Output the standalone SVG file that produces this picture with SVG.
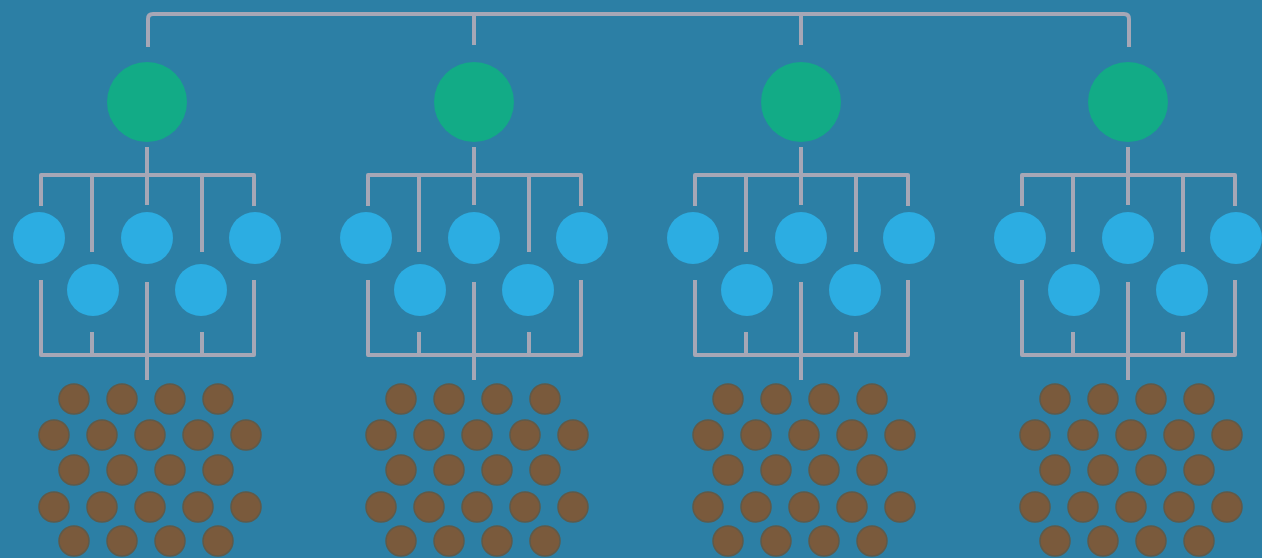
<svg xmlns="http://www.w3.org/2000/svg" width="1262" height="558" viewBox="0 0 1262 558">
<style>
.bg{fill:#2c7fa5}
.ln{fill:none;stroke:#a6a7b6;stroke-width:4;stroke-linejoin:round}
.g{fill:#12ab86}
.b{fill:#2cade2}
.d{fill:#7a5a3c;stroke:#5f5a4a;stroke-width:1.5}
</style>
<rect class="bg" x="0" y="0" width="1262" height="558"/>
<g id="connectors" class="ln">
<path d="M148,47 V19 Q148,14 153,14 H1124 Q1129,14 1129,19 V47 M474,14 V45 M801,14 V45"/>
<g transform="translate(147,0)"><path d="M0,147 V175 M-106,206 V175 H107 V206 M-55,175 V252 M0,175 V205 M55,175 V252 M-106,280 V355 H107 V280 M-55,332 V355 M55,332 V355 M0,282 V380"/></g>
<g transform="translate(474,0)"><path d="M0,147 V175 M-106,206 V175 H107 V206 M-55,175 V252 M0,175 V205 M55,175 V252 M-106,280 V355 H107 V280 M-55,332 V355 M55,332 V355 M0,282 V380"/></g>
<g transform="translate(801,0)"><path d="M0,147 V175 M-106,206 V175 H107 V206 M-55,175 V252 M0,175 V205 M55,175 V252 M-106,280 V355 H107 V280 M-55,332 V355 M55,332 V355 M0,282 V380"/></g>
<g transform="translate(1128,0)"><path d="M0,147 V175 M-106,206 V175 H107 V206 M-55,175 V252 M0,175 V205 M55,175 V252 M-106,280 V355 H107 V280 M-55,332 V355 M55,332 V355 M0,282 V380"/></g>
</g>
<g id="cluster-1" transform="translate(147,0)">
<g id="root-1"><circle class="g" cx="0" cy="102" r="40"/></g>
<g id="c1-b1"><circle class="b" cx="-108" cy="238" r="26"/></g>
<g id="c1-b2"><circle class="b" cx="0" cy="238" r="26"/></g>
<g id="c1-b3"><circle class="b" cx="108" cy="238" r="26"/></g>
<g id="c1-b4"><circle class="b" cx="-54" cy="290" r="26"/></g>
<g id="c1-b5"><circle class="b" cx="54" cy="290" r="26"/></g>
<g id="c1-dots">
<circle class="d" cx="-73" cy="399" r="15"/><circle class="d" cx="-25" cy="399" r="15"/><circle class="d" cx="23" cy="399" r="15"/><circle class="d" cx="71" cy="399" r="15"/>
<circle class="d" cx="-93" cy="435" r="15"/><circle class="d" cx="-45" cy="435" r="15"/><circle class="d" cx="3" cy="435" r="15"/><circle class="d" cx="51" cy="435" r="15"/><circle class="d" cx="99" cy="435" r="15"/>
<circle class="d" cx="-73" cy="470" r="15"/><circle class="d" cx="-25" cy="470" r="15"/><circle class="d" cx="23" cy="470" r="15"/><circle class="d" cx="71" cy="470" r="15"/>
<circle class="d" cx="-93" cy="507" r="15"/><circle class="d" cx="-45" cy="507" r="15"/><circle class="d" cx="3" cy="507" r="15"/><circle class="d" cx="51" cy="507" r="15"/><circle class="d" cx="99" cy="507" r="15"/>
<circle class="d" cx="-73" cy="541" r="15"/><circle class="d" cx="-25" cy="541" r="15"/><circle class="d" cx="23" cy="541" r="15"/><circle class="d" cx="71" cy="541" r="15"/>
</g>
</g>
<g id="cluster-2" transform="translate(474,0)">
<g id="root-2"><circle class="g" cx="0" cy="102" r="40"/></g>
<g id="c2-b1"><circle class="b" cx="-108" cy="238" r="26"/></g>
<g id="c2-b2"><circle class="b" cx="0" cy="238" r="26"/></g>
<g id="c2-b3"><circle class="b" cx="108" cy="238" r="26"/></g>
<g id="c2-b4"><circle class="b" cx="-54" cy="290" r="26"/></g>
<g id="c2-b5"><circle class="b" cx="54" cy="290" r="26"/></g>
<g id="c2-dots">
<circle class="d" cx="-73" cy="399" r="15"/><circle class="d" cx="-25" cy="399" r="15"/><circle class="d" cx="23" cy="399" r="15"/><circle class="d" cx="71" cy="399" r="15"/>
<circle class="d" cx="-93" cy="435" r="15"/><circle class="d" cx="-45" cy="435" r="15"/><circle class="d" cx="3" cy="435" r="15"/><circle class="d" cx="51" cy="435" r="15"/><circle class="d" cx="99" cy="435" r="15"/>
<circle class="d" cx="-73" cy="470" r="15"/><circle class="d" cx="-25" cy="470" r="15"/><circle class="d" cx="23" cy="470" r="15"/><circle class="d" cx="71" cy="470" r="15"/>
<circle class="d" cx="-93" cy="507" r="15"/><circle class="d" cx="-45" cy="507" r="15"/><circle class="d" cx="3" cy="507" r="15"/><circle class="d" cx="51" cy="507" r="15"/><circle class="d" cx="99" cy="507" r="15"/>
<circle class="d" cx="-73" cy="541" r="15"/><circle class="d" cx="-25" cy="541" r="15"/><circle class="d" cx="23" cy="541" r="15"/><circle class="d" cx="71" cy="541" r="15"/>
</g>
</g>
<g id="cluster-3" transform="translate(801,0)">
<g id="root-3"><circle class="g" cx="0" cy="102" r="40"/></g>
<g id="c3-b1"><circle class="b" cx="-108" cy="238" r="26"/></g>
<g id="c3-b2"><circle class="b" cx="0" cy="238" r="26"/></g>
<g id="c3-b3"><circle class="b" cx="108" cy="238" r="26"/></g>
<g id="c3-b4"><circle class="b" cx="-54" cy="290" r="26"/></g>
<g id="c3-b5"><circle class="b" cx="54" cy="290" r="26"/></g>
<g id="c3-dots">
<circle class="d" cx="-73" cy="399" r="15"/><circle class="d" cx="-25" cy="399" r="15"/><circle class="d" cx="23" cy="399" r="15"/><circle class="d" cx="71" cy="399" r="15"/>
<circle class="d" cx="-93" cy="435" r="15"/><circle class="d" cx="-45" cy="435" r="15"/><circle class="d" cx="3" cy="435" r="15"/><circle class="d" cx="51" cy="435" r="15"/><circle class="d" cx="99" cy="435" r="15"/>
<circle class="d" cx="-73" cy="470" r="15"/><circle class="d" cx="-25" cy="470" r="15"/><circle class="d" cx="23" cy="470" r="15"/><circle class="d" cx="71" cy="470" r="15"/>
<circle class="d" cx="-93" cy="507" r="15"/><circle class="d" cx="-45" cy="507" r="15"/><circle class="d" cx="3" cy="507" r="15"/><circle class="d" cx="51" cy="507" r="15"/><circle class="d" cx="99" cy="507" r="15"/>
<circle class="d" cx="-73" cy="541" r="15"/><circle class="d" cx="-25" cy="541" r="15"/><circle class="d" cx="23" cy="541" r="15"/><circle class="d" cx="71" cy="541" r="15"/>
</g>
</g>
<g id="cluster-4" transform="translate(1128,0)">
<g id="root-4"><circle class="g" cx="0" cy="102" r="40"/></g>
<g id="c4-b1"><circle class="b" cx="-108" cy="238" r="26"/></g>
<g id="c4-b2"><circle class="b" cx="0" cy="238" r="26"/></g>
<g id="c4-b3"><circle class="b" cx="108" cy="238" r="26"/></g>
<g id="c4-b4"><circle class="b" cx="-54" cy="290" r="26"/></g>
<g id="c4-b5"><circle class="b" cx="54" cy="290" r="26"/></g>
<g id="c4-dots">
<circle class="d" cx="-73" cy="399" r="15"/><circle class="d" cx="-25" cy="399" r="15"/><circle class="d" cx="23" cy="399" r="15"/><circle class="d" cx="71" cy="399" r="15"/>
<circle class="d" cx="-93" cy="435" r="15"/><circle class="d" cx="-45" cy="435" r="15"/><circle class="d" cx="3" cy="435" r="15"/><circle class="d" cx="51" cy="435" r="15"/><circle class="d" cx="99" cy="435" r="15"/>
<circle class="d" cx="-73" cy="470" r="15"/><circle class="d" cx="-25" cy="470" r="15"/><circle class="d" cx="23" cy="470" r="15"/><circle class="d" cx="71" cy="470" r="15"/>
<circle class="d" cx="-93" cy="507" r="15"/><circle class="d" cx="-45" cy="507" r="15"/><circle class="d" cx="3" cy="507" r="15"/><circle class="d" cx="51" cy="507" r="15"/><circle class="d" cx="99" cy="507" r="15"/>
<circle class="d" cx="-73" cy="541" r="15"/><circle class="d" cx="-25" cy="541" r="15"/><circle class="d" cx="23" cy="541" r="15"/><circle class="d" cx="71" cy="541" r="15"/>
</g>
</g>
</svg>
